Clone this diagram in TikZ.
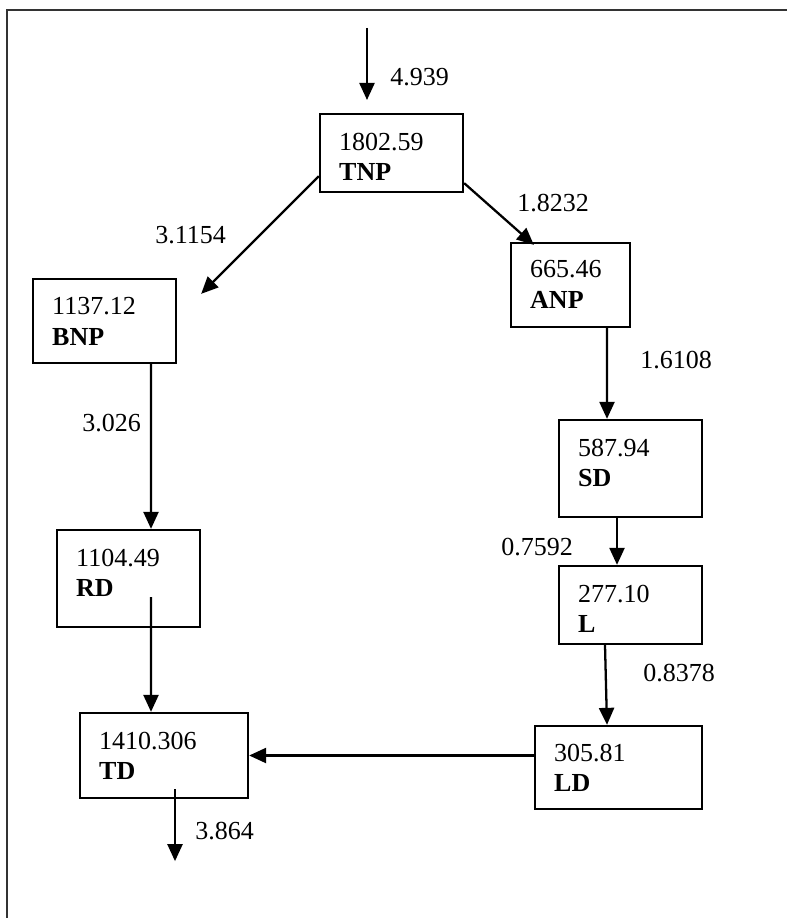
\documentclass[tikz,border=0pt]{standalone}
\usepackage{fontspec}
\setmainfont{Liberation Serif}
\usetikzlibrary{arrows.meta,calc,positioning}
\tikzset{
  >={Triangle[length=3.4mm,width=3mm]},
  flowBox/.style={draw,line width=1.3pt,inner sep=0pt},
  boxText/.style={anchor=north west,inner sep=0pt,align=left,font=\fontsize{14.8}{17.6}\selectfont},
  rateLabel/.style={anchor=west,inner sep=0pt,font=\fontsize{14.8}{17.6}\selectfont},
  flow/.style={->,line width=1.3pt},
}
\begin{document}
\begin{tikzpicture}

\useasboundingbox (0,0) rectangle (15.74,-18.36);

% outer frame (top and left edge only)
\draw[line width=0.9pt,black!80] (0.14,-18.36) -- (0.14,-0.2) -- (15.74,-0.2);

% ===== Boxes =====
\node[flowBox, minimum width=28.6mm, minimum height=15.6mm] (tnpBox) at (7.83,-3.06) {};
\node[flowBox, minimum width=28.6mm, minimum height=16.8mm] (bnpBox) at (2.09,-6.42) {};
\node[flowBox, minimum width=23.8mm, minimum height=16.8mm] (anpBox) at (11.41,-5.70) {};
\node[flowBox, minimum width=28.6mm, minimum height=19.4mm] (sdBox) at (12.61,-9.37) {};
\node[flowBox, minimum width=28.6mm, minimum height=19.4mm] (rdBox) at (2.57,-11.57) {};
\node[flowBox, minimum width=28.6mm, minimum height=15.6mm] (lBox) at (12.61,-12.10) {};
\node[flowBox, minimum width=33.6mm, minimum height=17.0mm] (tdBox) at (3.28,-15.11) {};
\node[flowBox, minimum width=33.4mm, minimum height=16.6mm] (ldBox) at (12.37,-15.35) {};

% ===== Box texts =====
\node[boxText] (tnpText) at ($(tnpBox.north west)+(0.4,-0.39)$) {1802.59\\\textbf{TNP}};
\node[boxText] (bnpText) at ($(bnpBox.north west)+(0.4,-0.39)$) {1137.12\\\textbf{BNP}};
\node[boxText] (anpText) at ($(anpBox.north west)+(0.4,-0.37)$) {665.46\\\textbf{ANP}};
\node[boxText] (sdText) at ($(sdBox.north west)+(0.4,-0.39)$) {587.94\\\textbf{SD}};
\node[boxText] (rdText) at ($(rdBox.north west)+(0.4,-0.39)$) {1104.49\\\textbf{RD}};
\node[boxText] (lText) at ($(lBox.north west)+(0.4,-0.39)$) {277.10\\\textbf{L}};
\node[boxText] (tdText) at ($(tdBox.north west)+(0.4,-0.39)$) {1410.306\\\textbf{TD}};
\node[boxText] (ldText) at ($(ldBox.north west)+(0.4,-0.37)$) {305.81\\\textbf{LD}};

% ===== Flows =====
\coordinate (inTop) at (7.34,-0.56);
\coordinate (inTip) at (7.34,-2.0);
\draw[flow] (inTop) -- (inTip);
\draw[flow] ($(tnpBox.south west)+(0,0.34)$) -- ($(bnpBox.north east)+(0.48,-0.32)$);
\draw[flow] ($(tnpBox.south east)+(0,0.2)$) -- ($(anpBox.north west)+(0.48,-0.06)$);
\draw[flow] ($(anpBox.south)+(0.73,0)$) -- ($(sdBox.north)+(-0.47,0)$);
\draw[flow] ($(sdBox.south)+(-0.27,0)$) -- ($(lBox.north)+(-0.27,0)$);
\draw[flow] ($(lBox.south)+(-0.51,0)$) -- ($(ldBox.north)+(-0.23,0)$);
\draw[flow] (tdBox.east -| ldBox.west) -- (tdBox.east);
\draw[flow] ($(bnpBox.south)+(0.93,0)$) -- ($(rdBox.north)+(0.45,0)$);
\draw[flow] ($(rdBox.south)+(0.45,0.62)$) -- ($(tdBox.north)+(-0.26,0)$);
\coordinate (outTip) at ($(tdBox.south)+(0.22,-1.24)$);
\draw[flow] ($(tdBox.south)+(0.22,0.2)$) -- (outTip);

% ===== Rates =====
\node[rateLabel] (inRate) at (7.80,-1.54) {4.939};
\node[rateLabel] (bnpRate) at (3.10,-4.70) {3.1154};
\node[rateLabel] (anpRate) at (10.34,-4.06) {1.8232};
\node[rateLabel] (sdRate) at (12.80,-7.20) {1.6108};
\node[rateLabel] (rdRate) at (1.64,-8.46) {3.026};
\node[rateLabel] (lRate) at (10.02,-10.94) {0.7592};
\node[rateLabel] (ldRate) at (12.86,-13.46) {0.8378};
\node[rateLabel] (outRate) at (3.90,-16.62) {3.864};

\end{tikzpicture}
\end{document}
